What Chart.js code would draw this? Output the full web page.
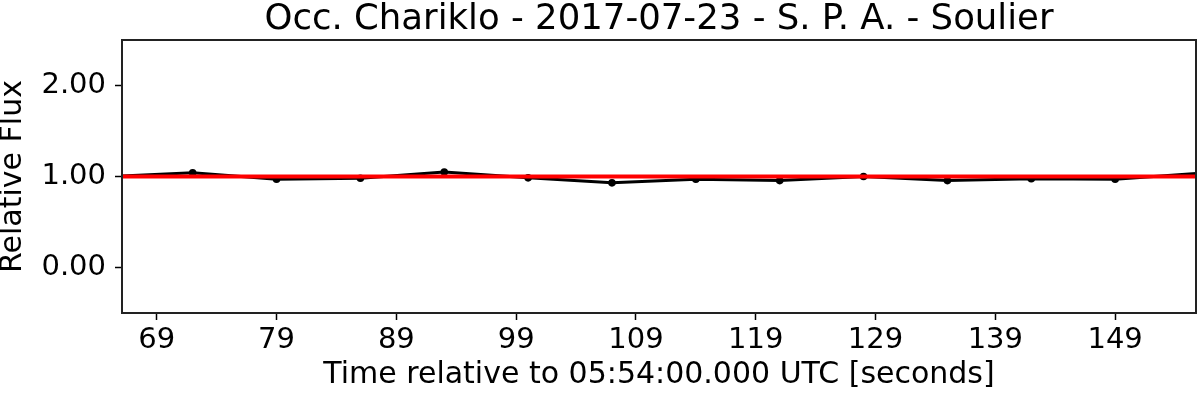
<!DOCTYPE html>
<html>
<head>
<meta charset="utf-8">
<script src="https://cdn.jsdelivr.net/npm/chart.js@4/dist/chart.umd.min.js"></script>
<style>
  html, body { margin: 0; padding: 0; background: #fff; }
  #wrap { width: 1200px; height: 393px; }
</style>
</head>
<body>
<div id="wrap"><canvas id="lc" width="1200" height="393"></canvas></div>
<script>
// light curve samples (seconds after 05:54:00 UTC)
const times = [65, 72, 79, 86, 93, 100, 107, 114, 121, 128, 135, 142, 149, 156];
const flux = [1.0, 1.04, 0.97, 0.98, 1.05, 0.985, 0.93, 0.97, 0.955, 1.0, 0.955, 0.975, 0.97, 1.035];
// fitted model (flat, no event)
const modelTimes = [65, 156];
const modelFlux = [1.0, 1.0];
const xTicks = [69, 79, 89, 99, 109, 119, 129, 139, 149];
const yTicks = [0, 1, 2];

const FONT = "'DejaVu Sans', sans-serif";
const TITLE = 'Occ. Chariklo - 2017-07-23 - S. P. A. - Soulier';

// frame around the plot area + title centred over the axes (matplotlib style)
const frame = {
  id: 'frame',
  afterDraw(chart){
    const a = chart.chartArea, c = chart.ctx;
    c.save();
    c.strokeStyle = '#222';
    c.lineWidth = 2;
    c.strokeRect(a.left, a.top, a.right - a.left, a.bottom - a.top);
    c.fillStyle = '#000';
    c.font = '35.5px ' + FONT;
    c.textAlign = 'center';
    c.textBaseline = 'alphabetic';
    c.fillText(TITLE, (a.left + a.right) / 2, 29);
    c.restore();
  }
};

new Chart(document.getElementById('lc').getContext('2d'), {
  type: 'scatter',
  data: {
    datasets: [
      {
        label: 'Model',
        data: modelTimes.map((t, i) => ({ x: t, y: modelFlux[i] })),
        showLine: true,
        borderColor: '#ff0000',
        borderWidth: 4,
        pointRadius: 0,
        order: 0
      },
      {
        label: 'Observed',
        data: times.map((t, i) => ({ x: t, y: flux[i] })),
        showLine: true,
        borderColor: '#000',
        backgroundColor: '#000',
        borderWidth: 3,
        pointRadius: 3.8,
        pointBorderWidth: 0,
        order: 1
      }
    ]
  },
  options: {
    responsive: false,
    animation: false,
    layout: { padding: { left: 0, right: 4, top: 40, bottom: 0 } },
    plugins: {
      legend: { display: false },
      tooltip: { enabled: false },
      title: { display: false }
    },
    scales: {
      x: {
        type: 'linear',
        min: 66.1,
        max: 155.75,
        afterBuildTicks: ax => { ax.ticks = xTicks.map(v => ({ value: v })); },
        afterFit: ax => { ax.height = 80; },
        ticks: {
          color: '#000',
          font: { family: FONT, size: 29 },
          padding: 3,
          maxRotation: 0,
          autoSkip: false,
          callback: v => String(v)
        },
        grid: { drawOnChartArea: false, drawTicks: true, tickLength: 7, color: '#000', tickWidth: 1.5 },
        border: { display: false },
        title: {
          display: true,
          text: 'Time relative to 05:54:00.000 UTC [seconds]',
          color: '#000',
          font: { family: FONT, size: 30 },
          padding: { top: 0, bottom: 0 }
        }
      },
      y: {
        min: -0.5,
        max: 2.5,
        afterBuildTicks: ax => { ax.ticks = yTicks.map(v => ({ value: v })); },
        afterFit: ax => { ax.width = 122; },
        ticks: {
          color: '#000',
          font: { family: FONT, size: 29 },
          padding: 9,
          callback: v => Number(v).toFixed(2)
        },
        grid: { drawOnChartArea: false, drawTicks: true, tickLength: 7, color: '#000', tickWidth: 1.5 },
        border: { display: false },
        title: {
          display: true,
          text: 'Relative Flux',
          color: '#000',
          font: { family: FONT, size: 30, lineHeight: 0.9 },
          padding: { top: 0, bottom: 0 }
        }
      }
    }
  },
  plugins: [frame]
});
</script>
</body>
</html>
